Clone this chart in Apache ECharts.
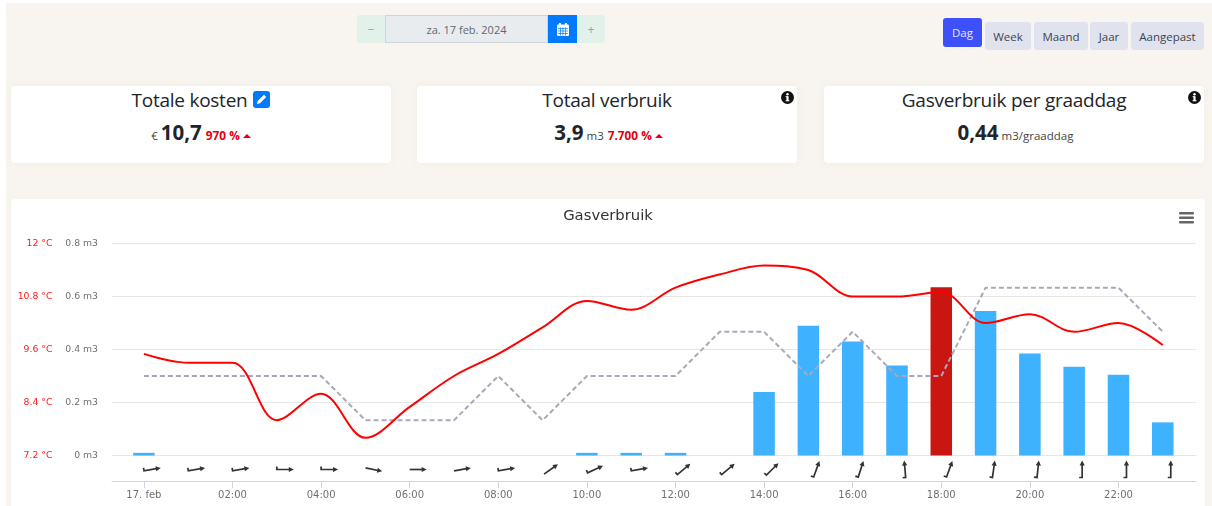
<!DOCTYPE html>
<html>
<head>
<meta charset="utf-8">
<title>Gasverbruik</title>
<script src="https://cdn.jsdelivr.net/npm/echarts@6/dist/echarts.min.js"></script>
<style>
  html,body{margin:0;padding:0;background:#fff;width:1212px;height:506px;overflow:hidden;font-family:"Open Sans",sans-serif;color:#212529;}
  .page{position:absolute;left:6px;top:3px;width:1206px;height:503px;background:#f8f5f0;}
  .abs{position:absolute;box-sizing:border-box;display:flex;align-items:center;justify-content:center;}
  .card{position:absolute;top:86px;height:77px;background:#fff;border-radius:4px;box-shadow:0 0 10px rgba(120,100,70,.06);}
  .cardtitle{position:absolute;top:0;left:0;right:0;height:29px;margin-top:-1px;display:flex;align-items:center;justify-content:center;font-size:19px;letter-spacing:-.25px;}
  .cardrow{position:absolute;top:32px;left:0;right:0;height:30px;display:flex;align-items:baseline;justify-content:center;font-size:11.5px;color:#444;}
  .big{font-size:20.5px;font-weight:700;color:#212529;margin:0 3px 0 3px;}
  .pct{color:#e3000f;font-weight:700;font-size:11.8px;margin-left:1px;}
  .caret{display:inline-block;width:0;height:0;border-left:4px solid transparent;border-right:4px solid transparent;border-bottom:4px solid #e3000f;margin-left:3px;position:relative;top:-2px;}
  .info{position:absolute;top:5px;right:3px;}
  .btn{position:absolute;box-sizing:border-box;display:flex;align-items:center;justify-content:center;background:#e0e3ee;border-radius:3px;font-size:11.5px;color:#3d4450;}
  #chart{position:absolute;left:11px;top:199px;width:1194px;height:307px;background:#fff;border-radius:4px 4px 0 0;}
</style>
</head>
<body>
<div class="page"></div>

<!-- datum -->
<div class="abs" style="left:357px;top:15px;width:28px;height:28px;background:#e2f1ea;border-radius:3px 0 0 3px;color:#40d0b0;font-size:12px;">&minus;</div>
<div class="abs" style="left:385px;top:15px;width:163px;height:28px;background:#e9ecef;border:1px solid #ced4da;color:#5f6870;font-size:11px;">za. 17 feb. 2024</div>
<div class="abs" style="left:548px;top:15px;width:29px;height:28px;background:#007bff;">
  <svg width="12" height="13" viewBox="0 0 12 13"><rect x="2" y="0" width="2" height="3" fill="#fff"/><rect x="8" y="0" width="2" height="3" fill="#fff"/><rect x="0" y="1.5" width="12" height="11.5" rx="1" fill="#fff"/><path d="M1 5.5H11M1 8H11M1 10.5H11M3.5 4.5V12.5M6 4.5V12.5M8.5 4.5V12.5" stroke="#007bff" stroke-width=".7"/></svg>
</div>
<div class="abs" style="left:577px;top:15px;width:28px;height:28px;background:#e2f1ea;border-radius:0 3px 3px 0;color:#40d0b0;font-size:12px;">+</div>

<!-- periode -->
<div class="btn" style="left:943px;top:18px;width:39px;height:29px;background:#3d50fa;color:#e6e9ff;">Dag</div>
<div class="btn" style="left:985px;top:22px;width:46px;height:28px;">Week</div>
<div class="btn" style="left:1034px;top:22px;width:54px;height:28px;">Maand</div>
<div class="btn" style="left:1090px;top:22px;width:38px;height:28px;">Jaar</div>
<div class="btn" style="left:1131px;top:22px;width:73px;height:28px;">Aangepast</div>

<!-- kaarten -->
<div class="card" style="left:11px;width:380px;">
  <div class="cardtitle">Totale kosten
    <svg style="margin-left:6px" width="17" height="17" viewBox="0 0 17 17"><rect width="17" height="17" rx="3" fill="#007bff"/><path d="M4 13l.7-3L11 3.7l2.3 2.3L7 12.3z" fill="#fff"/></svg>
  </div>
  <div class="cardrow"><span>€</span><span class="big">10,7</span><span class="pct">970 %</span><span class="caret"></span></div>
</div>
<div class="card" style="left:417px;width:380px;">
  <div class="cardtitle">Totaal verbruik</div>
  <svg class="info" width="13" height="13" viewBox="0 0 13 13"><circle cx="6.5" cy="6.5" r="6.5" fill="#111"/><rect x="5.4" y="5.4" width="2.2" height="4.6" fill="#fff"/><rect x="4.6" y="9.2" width="3.8" height="1.1" fill="#fff"/><rect x="4.6" y="5.2" width="2.6" height="1" fill="#fff"/><circle cx="6.5" cy="3.3" r="1.25" fill="#fff"/></svg>
  <div class="cardrow"><span class="big">3,9</span><span>m3</span><span class="pct" style="margin-left:4px">7.700 %</span><span class="caret"></span></div>
</div>
<div class="card" style="left:824px;width:380px;">
  <div class="cardtitle">Gasverbruik per graaddag</div>
  <svg class="info" width="13" height="13" viewBox="0 0 13 13"><circle cx="6.5" cy="6.5" r="6.5" fill="#111"/><rect x="5.4" y="5.4" width="2.2" height="4.6" fill="#fff"/><rect x="4.6" y="9.2" width="3.8" height="1.1" fill="#fff"/><rect x="4.6" y="5.2" width="2.6" height="1" fill="#fff"/><circle cx="6.5" cy="3.3" r="1.25" fill="#fff"/></svg>
  <div class="cardrow"><span class="big">0,44</span><span>m3/graaddag</span></div>
</div>

<div id="chart"></div>

<script>
var hours = [0,1,2,3,4,5,6,7,8,9,10,11,12,13,14,15,16,17,18,19,20,21,22,23];
var gasValues = [0.01,0,0,0,0,0,0,0,0,0,0.01,0.01,0.01,0,0.24,0.49,0.43,0.34,0.635,0.545,0.385,0.335,0.305,0.125];
var tempValues = [9.5,9.3,9.3,8.0,8.6,7.6,8.3,9.0,9.5,10.1,10.7,10.5,11.0,11.3,11.5,11.4,10.8,10.8,10.9,10.2,10.4,10.0,10.2,9.7];
var refValues = [0.3,0.3,0.3,0.3,0.3,0.133,0.133,0.133,0.3,0.133,0.3,0.3,0.3,0.467,0.467,0.3,0.467,0.3,0.3,0.633,0.633,0.633,0.633,0.467];
// windrichting in graden t.o.v. horizontaal, tegen de klok in
var windAngles = [10,10,10,0,0,-12,0,10,10,35,25,10,40,40,45,70,72,95,70,82,84,90,90,90];
var windHooks = [1,1,1,1,1,0,0,0,1,0,1,1,1,1,1,1,1,1,1,1,1,1,1,1];
var tickHours = [0,2,4,6,8,10,12,14,16,18,20,22];
var tickLabels = ['17. feb','02:00','04:00','06:00','08:00','10:00','12:00','14:00','16:00','18:00','20:00','22:00'];
var peakHour = 18;

var labelFont = '"DejaVu Sans", sans-serif';

function zip(a, b){
  return a.map(function(v, i){ return [v, b[i]]; });
}

var chart = echarts.init(document.getElementById('chart'));

var option = {
  animation: false,
  backgroundColor: 'transparent',
  title: {
    text: 'Gasverbruik', left: 'center', top: 5,
    textStyle: { color: '#333', fontSize: 14.8, fontWeight: 'normal', fontFamily: labelFont }
  },
  graphic: [
    { type: 'rect', left: 1168, top: 13, shape: { width: 15, height: 2.4, r: 1 }, style: { fill: '#666' } },
    { type: 'rect', left: 1168, top: 17.5, shape: { width: 15, height: 2.4, r: 1 }, style: { fill: '#666' } },
    { type: 'rect', left: 1168, top: 22, shape: { width: 15, height: 2.4, r: 1 }, style: { fill: '#666' } }
  ],
  grid: [
    { left: 101, top: 44.5, width: 1084, height: 212 },
    { left: 101, top: 257, width: 1084, height: 25 }
  ],
  xAxis: [
    {
      type: 'value', gridIndex: 0, min: -0.72, max: 23.75,
      axisLine: { show: true, lineStyle: { color: '#e6e6e6' } },
      axisTick: { show: false }, axisLabel: { show: false }, splitLine: { show: false }
    },
    {
      type: 'value', gridIndex: 1, min: -0.72, max: 23.75,
      axisLine: { show: true, lineStyle: { color: '#ccd6eb' } },
      axisTick: { show: true, length: 7, lineStyle: { color: '#ccd6eb' }, customValues: tickHours },
      axisLabel: {
        customValues: tickHours, color: '#707070', fontSize: 10, fontFamily: labelFont, margin: 9,
        formatter: function(v){ return tickLabels[tickHours.indexOf(v)]; }
      },
      splitLine: { show: false }
    }
  ],
  yAxis: [
    {
      type: 'value', gridIndex: 0, min: 0, max: 0.8, interval: 0.2,
      axisLine: { show: false }, axisTick: { show: false },
      axisLabel: { color: '#707070', fontSize: 9.3, fontFamily: labelFont, margin: 14, padding: [2, 0, 0, 0],
        formatter: function(v){ return Math.round(v * 10) / 10 + ' m3'; } },
      splitLine: { lineStyle: { color: '#e6e6e6' } }
    },
    {
      type: 'value', gridIndex: 0, position: 'left', offset: 45.5, min: 7.2, max: 12, interval: 1.2,
      axisLine: { show: false }, axisTick: { show: false },
      axisLabel: { color: '#ff1a1a', fontSize: 9.3, fontFamily: labelFont, margin: 14, padding: [2, 0, 0, 0],
        formatter: function(v){ return Math.round(v * 10) / 10 + ' °C'; } },
      splitLine: { show: false }
    },
    { type: 'value', gridIndex: 1, min: 0, max: 1, show: false }
  ],
  series: [
    {
      name: 'Gas', type: 'bar', xAxisIndex: 0, yAxisIndex: 0, barWidth: 21.5,
      data: zip(hours, gasValues),
      itemStyle: {
        color: function(p){ return p.value[0] === peakHour ? '#c91611' : '#3eb1ff'; }
      }
    },
    {
      name: 'Referentie', type: 'line', xAxisIndex: 0, yAxisIndex: 0, showSymbol: false,
      data: zip(hours, refValues),
      lineStyle: { color: '#a8a8bb', width: 2, type: [5, 3] }
    },
    {
      name: 'Temperatuur', type: 'line', xAxisIndex: 0, yAxisIndex: 1, showSymbol: false, smooth: 0.35,
      data: zip(hours, tempValues),
      lineStyle: { color: '#ff0000', width: 2 }
    },
    {
      name: 'Wind', type: 'custom', xAxisIndex: 1, yAxisIndex: 2,
      data: hours.map(function(h, i){ return [h, 0.46, windAngles[i], windHooks[i]]; }),
      renderItem: function(params, api){
        var p = api.coord([api.value(0), api.value(1)]);
        var pts = api.value(3) ? [[-8, -3], [-8, 0], [6, 0]] : [[-8, 0], [6, 0]];
        return {
          type: 'group', x: p[0] + 8, y: p[1], rotation: api.value(2) * Math.PI / 180,
          children: [
            { type: 'polyline', shape: { points: pts }, style: { fill: null, stroke: '#333', lineWidth: 1.7 } },
            { type: 'polygon', shape: { points: [[9, 0], [4, -2.6], [4, 2.6]] }, style: { fill: '#333' } }
          ]
        };
      }
    }
  ]
};

chart.setOption(option);
</script>
</body>
</html>
